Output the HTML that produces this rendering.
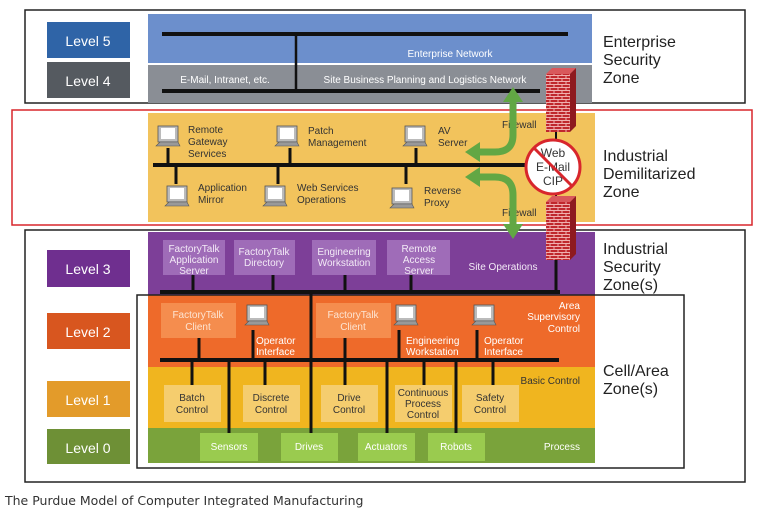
<!DOCTYPE html>
<html><head><style>
body{margin:0;background:#fff;}
svg text{font-family:"Liberation Sans",sans-serif;}
</style></head><body>
<svg width="760" height="514" viewBox="0 0 760 514" xmlns="http://www.w3.org/2000/svg">
<defs>
<pattern id="brick" width="8" height="6" patternUnits="userSpaceOnUse">
<rect width="8" height="6" fill="#c0272d"/>
<path d="M0 0.5H8M0 3.5H8M2 0.5V3.5M6 3.5V6" stroke="#f0b0b0" stroke-width="1"/>
</pattern>
<g id="pc">
<rect x="2" y="0" width="20" height="16" fill="#bbb" stroke="#555" stroke-width="0.8"/>
<rect x="5" y="2" width="14" height="11" fill="#fff"/>
<polygon points="0,20 4,16 22,16 24,20" fill="#999" stroke="#555" stroke-width="0.6"/>
</g>
</defs>
<rect x="25" y="10" width="720" height="93" fill="none" stroke="#222" stroke-width="1.5"/>
<rect x="47" y="22" width="83" height="36" fill="#2f64a7"/>
<text x="88" y="46" fill="#fff" font-size="14" text-anchor="middle">Level 5</text>
<rect x="47" y="62" width="83" height="36" fill="#555a60"/>
<text x="88" y="86" fill="#fff" font-size="14" text-anchor="middle">Level 4</text>
<rect x="148" y="14" width="444" height="49" fill="#6c8fcc"/>
<rect x="148" y="65" width="444" height="38" fill="#8a8e95"/>
<line x1="162" y1="34" x2="568" y2="34" stroke="#111" stroke-width="4"/>
<line x1="296" y1="34" x2="296" y2="92" stroke="#111" stroke-width="2.5"/>
<line x1="162" y1="91" x2="540" y2="91" stroke="#111" stroke-width="4"/>
<text x="450" y="57" fill="#fff" font-size="10" text-anchor="middle">Enterprise Network</text>
<text x="225" y="83" fill="#fff" font-size="10" text-anchor="middle">E-Mail, Intranet, etc.</text>
<text x="425" y="83" fill="#fff" font-size="10" text-anchor="middle">Site Business Planning and Logistics Network</text>
<text x="603" y="47" font-size="16" fill="#222">Enterprise</text>
<text x="603" y="65" font-size="16" fill="#222">Security</text>
<text x="603" y="83" font-size="16" fill="#222">Zone</text>
<rect x="148" y="113" width="447" height="109" fill="#f2c35c"/>
<rect x="12" y="110" width="740" height="115" fill="none" stroke="#d8262c" stroke-width="1.5"/>
<line x1="153" y1="165" x2="532" y2="165" stroke="#111" stroke-width="4"/>
<g stroke="#111" stroke-width="3">
<line x1="168" y1="148" x2="168" y2="165"/><line x1="290" y1="148" x2="290" y2="165"/><line x1="416" y1="148" x2="416" y2="165"/>
<line x1="176" y1="165" x2="176" y2="184"/><line x1="278" y1="165" x2="278" y2="184"/><line x1="406" y1="165" x2="406" y2="184"/>
</g>
<use href="#pc" x="156" y="126"/><use href="#pc" x="275" y="126"/><use href="#pc" x="403" y="126"/>
<use href="#pc" x="165" y="186"/><use href="#pc" x="263" y="186"/><use href="#pc" x="390" y="188"/>
<g font-size="10" fill="#333">
<text x="188" y="133">Remote</text><text x="188" y="145">Gateway</text><text x="188" y="157">Services</text>
<text x="308" y="134">Patch</text><text x="308" y="146">Management</text>
<text x="438" y="134">AV</text><text x="438" y="146">Server</text>
<text x="198" y="191">Application</text><text x="198" y="203">Mirror</text>
<text x="297" y="191">Web Services</text><text x="297" y="203">Operations</text>
<text x="424" y="194">Reverse</text><text x="424" y="206">Proxy</text>
<text x="502" y="128">Firewall</text><text x="502" y="216">Firewall</text>
</g>
<text x="603" y="161" font-size="16" fill="#222">Industrial</text>
<text x="603" y="179" font-size="16" fill="#222">Demilitarized</text>
<text x="603" y="197" font-size="16" fill="#222">Zone</text>
<rect x="25" y="230" width="720" height="252" fill="none" stroke="#222" stroke-width="1.5"/>
<rect x="148" y="232" width="447" height="63" fill="#7d3f98"/>
<rect x="148" y="295" width="447" height="72" fill="#ee6a2a"/>
<rect x="148" y="367" width="447" height="61" fill="#f0b51f"/>
<rect x="148" y="428" width="447" height="35" fill="#7aa33b"/>
<rect x="137" y="295" width="547" height="173" fill="none" stroke="#222" stroke-width="1.5"/>
<rect x="47" y="250" width="83" height="37" fill="#6f2f8f"/>
<text x="88" y="274" fill="#fff" font-size="14" text-anchor="middle">Level 3</text>
<rect x="47" y="313" width="83" height="36" fill="#d8561f"/>
<text x="88" y="337" fill="#fff" font-size="14" text-anchor="middle">Level 2</text>
<rect x="47" y="381" width="83" height="36" fill="#e39b2a"/>
<text x="88" y="405" fill="#fff" font-size="14" text-anchor="middle">Level 1</text>
<rect x="47" y="429" width="83" height="35" fill="#6e9036"/>
<text x="88" y="453" fill="#fff" font-size="14" text-anchor="middle">Level 0</text>
<g fill="#9f6cb8"><rect x="163" y="240" width="62" height="35"/><rect x="234" y="240" width="61" height="35"/><rect x="312" y="240" width="64" height="35"/><rect x="387" y="240" width="63" height="35"/></g>
<g fill="#f58d4e"><rect x="161" y="303" width="75" height="35"/><rect x="316" y="303" width="75" height="35"/></g>
<g fill="#f5cd6e"><rect x="164" y="385" width="57" height="37"/><rect x="243" y="385" width="57" height="37"/><rect x="321" y="385" width="57" height="37"/><rect x="395" y="385" width="57" height="37"/><rect x="462" y="385" width="57" height="37"/></g>
<g fill="#9acb4f"><rect x="200" y="433" width="58" height="28"/><rect x="281" y="433" width="57" height="28"/><rect x="358" y="433" width="57" height="28"/><rect x="428" y="433" width="57" height="28"/></g>
<g stroke="#111" stroke-width="3">
<line x1="160" y1="292" x2="560" y2="292" stroke-width="4"/>
<line x1="160" y1="360" x2="559" y2="360" stroke-width="4"/>
<line x1="193" y1="275" x2="193" y2="292"/><line x1="273" y1="275" x2="273" y2="292"/><line x1="345" y1="275" x2="345" y2="292"/><line x1="411" y1="275" x2="411" y2="292"/>
<line x1="556" y1="255" x2="556" y2="292"/>
<line x1="311" y1="292" x2="311" y2="433"/>
<line x1="199" y1="338" x2="199" y2="360"/><line x1="345" y1="338" x2="345" y2="360"/>
<line x1="253" y1="330" x2="253" y2="360"/><line x1="399" y1="330" x2="399" y2="360"/><line x1="477" y1="330" x2="477" y2="360"/>
<line x1="192" y1="360" x2="192" y2="385"/><line x1="265" y1="360" x2="265" y2="385"/><line x1="345" y1="360" x2="345" y2="385"/><line x1="424" y1="360" x2="424" y2="385"/><line x1="493" y1="360" x2="493" y2="385"/>
<line x1="229" y1="360" x2="229" y2="433"/><line x1="387" y1="360" x2="387" y2="433"/><line x1="456" y1="360" x2="456" y2="433"/>
</g>
<use href="#pc" x="245" y="305"/><use href="#pc" x="394" y="305"/><use href="#pc" x="472" y="305"/>
<g font-size="10" fill="#f3eaf6" text-anchor="middle">
<text x="194" y="252">FactoryTalk</text><text x="194" y="263">Application</text><text x="194" y="274">Server</text>
<text x="264" y="255">FactoryTalk</text><text x="264" y="266">Directory</text>
<text x="344" y="255">Engineering</text><text x="344" y="266">Workstation</text>
<text x="419" y="252">Remote</text><text x="419" y="263">Access</text><text x="419" y="274">Server</text>
<text x="503" y="270">Site Operations</text>
</g>
<g font-size="10" fill="#fde4d2" text-anchor="middle">
<text x="198" y="318">FactoryTalk</text><text x="198" y="330">Client</text>
<text x="353" y="318">FactoryTalk</text><text x="353" y="330">Client</text>
</g>
<g font-size="10" fill="#fff">
<text x="256" y="344">Operator</text><text x="256" y="355">Interface</text>
<text x="406" y="344">Engineering</text><text x="406" y="355">Workstation</text>
<text x="484" y="344">Operator</text><text x="484" y="355">Interface</text>
</g>
<g font-size="10" fill="#fff" text-anchor="end">
<text x="580" y="309">Area</text><text x="580" y="320">Supervisory</text><text x="580" y="332">Control</text>
<text x="580" y="450">Process</text>
</g>
<text x="580" y="384" font-size="10" fill="#333" text-anchor="end">Basic Control</text>
<g font-size="10" fill="#333" text-anchor="middle">
<text x="192" y="401">Batch</text><text x="192" y="413">Control</text>
<text x="271" y="401">Discrete</text><text x="271" y="413">Control</text>
<text x="349" y="401">Drive</text><text x="349" y="413">Control</text>
<text x="423" y="396">Continuous</text><text x="423" y="407">Process</text><text x="423" y="418">Control</text>
<text x="490" y="401">Safety</text><text x="490" y="413">Control</text>
</g>
<g font-size="10" fill="#fff" text-anchor="middle">
<text x="229" y="450">Sensors</text><text x="309" y="450">Drives</text><text x="386" y="450">Actuators</text><text x="456" y="450">Robots</text>
</g>
<text x="603" y="254" font-size="16" fill="#222">Industrial</text>
<text x="603" y="272" font-size="16" fill="#222">Security</text>
<text x="603" y="290" font-size="16" fill="#222">Zone(s)</text>
<text x="603" y="376" font-size="16" fill="#222">Cell/Area</text>
<text x="603" y="394" font-size="16" fill="#222">Zone(s)</text>
<line x1="556" y1="130" x2="556" y2="200" stroke="#111" stroke-width="2"/>
<rect x="546" y="74" width="24" height="58" fill="url(#brick)"/>
<polygon points="546,74 552,68 576,68 570,74" fill="#d9585c"/><polygon points="570,74 576,68 576,126 570,132" fill="#8e1a1f"/>
<rect x="546" y="202" width="24" height="58" fill="url(#brick)"/>
<polygon points="546,202 552,196 576,196 570,202" fill="#d9585c"/><polygon points="570,202 576,196 576,254 570,260" fill="#8e1a1f"/>
<circle cx="553" cy="167" r="27" fill="#fff" stroke="#d8262c" stroke-width="3"/>
<g font-size="12" fill="#333" text-anchor="middle"><text x="553" y="157">Web</text><text x="553" y="171">E-Mail</text><text x="553" y="185">CIP</text></g>
<line x1="534" y1="148" x2="572" y2="186" stroke="#d8262c" stroke-width="3"/>
<g fill="none" stroke="#62a744" stroke-width="7">
<path d="M513 100 V135 Q513 152 495 152 H478"/>
<path d="M478 177 H495 Q513 177 513 195 V226"/>
</g>
<g fill="#62a744">
<polygon points="513,87 503,102 523,102"/><polygon points="465,152 480,142 480,162"/>
<polygon points="465,177 480,167 480,187"/><polygon points="513,239 503,224 523,224"/>
</g>
<text x="5" y="505" font-size="12.5" fill="#333" style="font-family:'DejaVu Sans',sans-serif">The Purdue Model of Computer Integrated Manufacturing</text>
</svg>
</body></html>
